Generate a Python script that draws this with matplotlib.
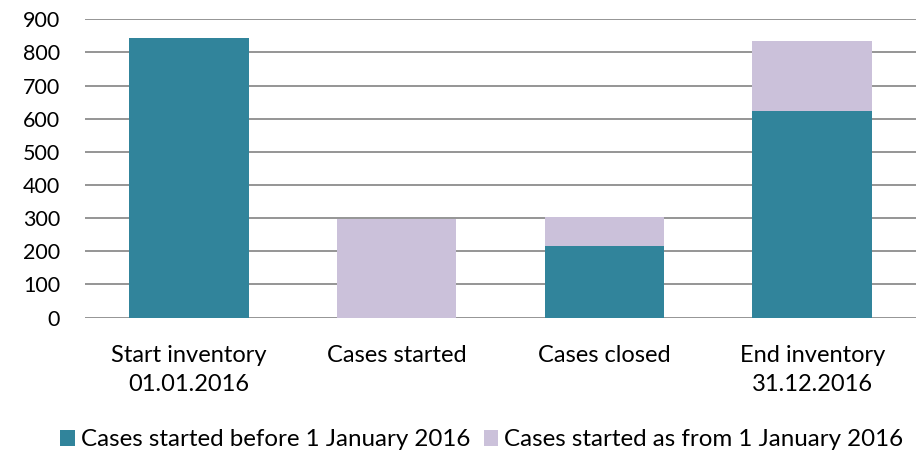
import matplotlib
matplotlib.use("Agg")
import matplotlib.pyplot as plt
import numpy as np

categories = ["Start inventory\n01.01.2016", "Cases started", "Cases closed", "End inventory\n31.12.2016"]
before_2016 = [843, 0, 216, 623]
from_2016 = [0, 297, 86, 212]
series_names = ["Cases started before 1 January 2016", "Cases started as from 1 January 2016"]
yticks = [0, 100, 200, 300, 400, 500, 600, 700, 800, 900]

plt.rcParams['font.family'] = ['Lato', 'DejaVu Sans']
fig = plt.figure(figsize=(9.16, 4.55), dpi=100)
ax = fig.add_axes([85/916, 1-317.5/455, 1-85/916, (317.5-19.3)/455])

x = np.arange(len(categories))
w = 0.575
ax.bar(x, before_2016, w, color="#31849B", label=series_names[0], zorder=3)
ax.bar(x, from_2016, w, bottom=before_2016, color="#CBC1DA", label=series_names[1], zorder=3)

ax.set_xlim(-0.5, len(categories) - 0.5)
ax.set_ylim(0, 900)
ax.set_yticks(yticks)
ax.set_yticklabels([str(t) for t in yticks], fontsize=15.5)
ax.set_xticks(x)
ax.set_xticklabels(categories, fontsize=17, linespacing=1.45)
ax.tick_params(axis='both', length=0)
ax.tick_params(axis='y', pad=18)
ax.tick_params(axis='x', pad=20)
ax.yaxis.grid(True, color="#8C8C8C", linewidth=1.3, zorder=0)
for s in ax.spines.values():
    s.set_visible(False)

leg = fig.legend(loc="center", bbox_to_anchor=(0.526, 1-440/455), ncol=2, frameon=False,
                 fontsize=17.4, handlelength=0.6, handleheight=0.6, handletextpad=0.25,
                 columnspacing=0.55, borderaxespad=0, borderpad=0)
fig.savefig("out.png", dpi=100)
